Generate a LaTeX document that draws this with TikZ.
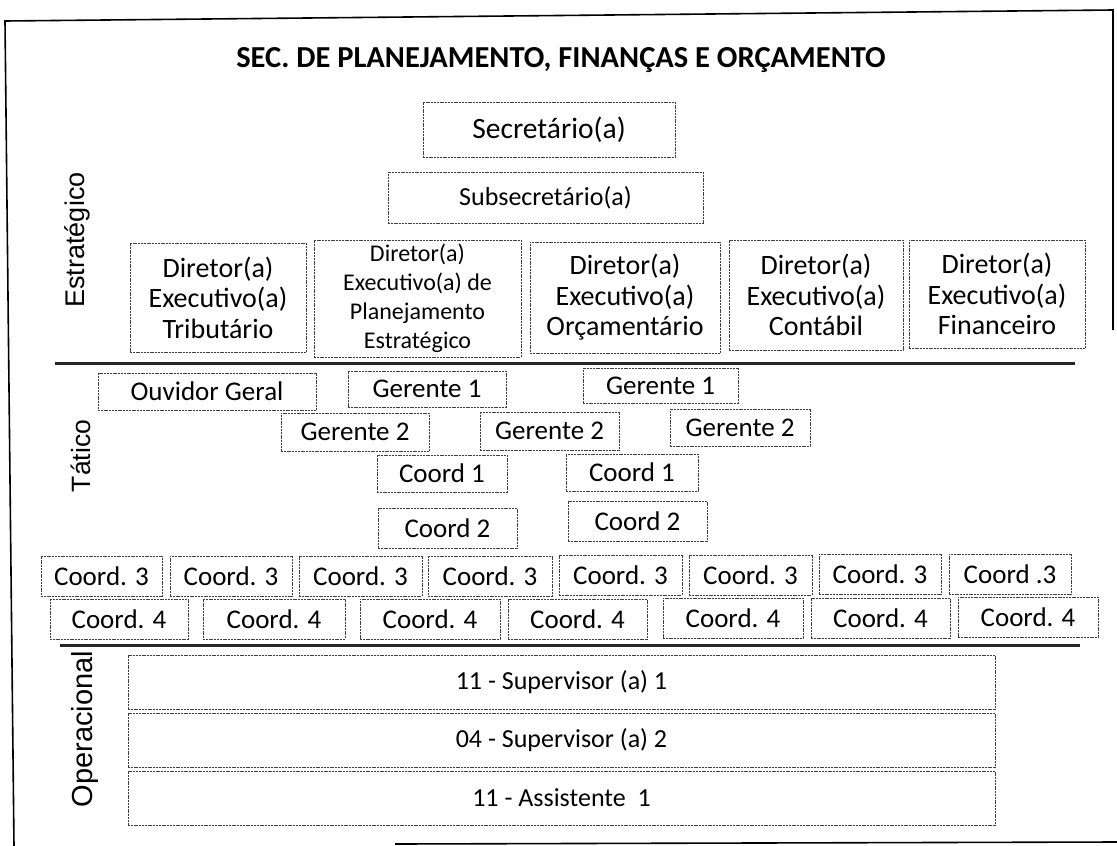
\documentclass[tikz,border=0pt]{standalone}
\usepackage{fontspec}
\setmainfont{Carlito}
\newfontfamily\lblfont{Liberation Sans}
\begin{document}
\begin{tikzpicture}[x=1pt,y=-1pt,
  box/.style={draw=black!75,line width=0.7pt,dash pattern=on 2pt off 0.8pt,inner sep=0pt,align=center,
    font=\fontsize{27}{32}\selectfont},
  dir/.style={box,font=\fontsize{28}{30.5}\selectfont},
  sep/.style={line width=3pt,black!85},
  frame/.style={line width=1.6pt,black},
  side/.style={rotate=90,font=\lblfont\fontsize{27}{30}\selectfont}]
\useasboundingbox (0,0) rectangle (1117,846);
% frame
\coordinate (fbl) at (14,846);
\coordinate (ftl) at (5,21);
\coordinate (ftr) at (1113,10);
\coordinate (frr) at (1113,330);
\coordinate (fb1) at (395,844);
\coordinate (fb2) at (1117,842);
\draw[frame] (fbl) -- (ftl) -- (ftr) -- (frr);
\draw[frame] (fb1) -- (fb2);
% title
\node[font=\bfseries\fontsize{30.5}{36}\selectfont] (title) at (561,60) {SEC. DE PLANEJAMENTO, FINANÇAS E ORÇAMENTO};
% side labels
\node[side] (lE) at (77,240) {Estratégico};
\node[side,font=\lblfont\fontsize{26.5}{30}\selectfont] (lT) at (81,456) {Tático};
\node[side,font=\lblfont\fontsize{29}{32}\selectfont] (lO) at (85,729) {Operacional};
% strategic
\node[box,minimum width=252,minimum height=55,font=\fontsize{29.5}{34}\selectfont] (sec) at (549,129.5) {Secretário(a)};
\node[box,minimum width=315,minimum height=51,font=\fontsize{26}{30}\selectfont] (sub) at (545.5,197.5) {Subsecretário(a)};
\node[dir,minimum width=176,minimum height=109] (d1) at (218,297.5) {Diretor(a)\\Executivo(a)\\Tributário};
\node[box,minimum width=207,minimum height=117,font=\fontsize{24}{29}\selectfont] (d2) at (417.5,298.5) {Diretor(a)\\Executivo(a) de\\Planejamento\\Estratégico};
\node[dir,minimum width=190,minimum height=111] (d3) at (625,297.5) {Diretor(a)\\Executivo(a)\\Orçamentário};
\node[dir,minimum width=174,minimum height=110] (d4) at (816,295) {Diretor(a)\\Executivo(a)\\Contábil};
\node[dir,minimum width=176,minimum height=108] (d5) at (997,294) {Diretor(a)\\Executivo(a)\\Financeiro};
\coordinate (s1a) at (55,363);
\coordinate (s1b) at (1075,363);
\draw[sep] (s1a) -- (s1b);
% tactical
\node[box,minimum width=218,minimum height=37] (ouv) at (207,391.5) {Ouvidor Geral};
\node[box,minimum width=158,minimum height=36] (g1a) at (427,389) {Gerente 1};
\node[box,minimum width=155,minimum height=35] (g1b) at (660.5,385.5) {Gerente 1};
\node[box,minimum width=148,minimum height=38] (g2a) at (355,432) {Gerente 2};
\node[box,minimum width=139,minimum height=38] (g2b) at (549.5,431) {Gerente 2};
\node[box,minimum width=140,minimum height=37] (g2c) at (740,427.5) {Gerente 2};
\node[box,minimum width=130,minimum height=37] (c1a) at (442,473.5) {Coord 1};
\node[box,minimum width=132,minimum height=37] (c1b) at (632,472.5) {Coord 1};
\node[box,minimum width=139,minimum height=40] (c2a) at (447.5,528) {Coord 2};
\node[box,minimum width=139,minimum height=40] (c2b) at (637.5,521) {Coord 2};
\node[box,minimum width=121,minimum height=40] (c3a) at (101.5,576) {Coord. 3};
\node[box,minimum width=122,minimum height=40] (c3b) at (231,576) {Coord. 3};
\node[box,minimum width=123,minimum height=40] (c3c) at (360.5,576) {Coord. 3};
\node[box,minimum width=124,minimum height=40] (c3d) at (490,576) {Coord. 3};
\node[box,minimum width=123,minimum height=40] (c3e) at (620.5,575) {Coord. 3};
\node[box,minimum width=123,minimum height=40] (c3f) at (750.5,575) {Coord. 3};
\node[box,minimum width=122,minimum height=40] (c3g) at (880,574) {Coord. 3};
\node[box,minimum width=122,minimum height=40] (c3h) at (1010,574) {Coord .3};
\node[box,minimum width=138,minimum height=40] (c4a) at (119,619) {Coord. 4};
\node[box,minimum width=142,minimum height=40] (c4b) at (274,619) {Coord. 4};
\node[box,minimum width=140,minimum height=40] (c4c) at (430,619) {Coord. 4};
\node[box,minimum width=139,minimum height=40] (c4d) at (577.5,619) {Coord. 4};
\node[box,minimum width=140,minimum height=40] (c4e) at (733,618) {Coord. 4};
\node[box,minimum width=139,minimum height=40] (c4f) at (880.5,618) {Coord. 4};
\node[box,minimum width=140,minimum height=40] (c4g) at (1028,617) {Coord. 4};
\coordinate (s2a) at (60,645);
\coordinate (s2b) at (1080,645);
\draw[sep] (s2a) -- (s2b);
% operational
\node[box,minimum width=867,minimum height=54,font=\fontsize{26}{30}\selectfont] (o1) at (561.5,682) {11 - Supervisor (a) 1};
\node[box,minimum width=867,minimum height=54,font=\fontsize{26}{30}\selectfont] (o2) at (561.5,740) {04 - Supervisor (a) 2};
\node[box,minimum width=867,minimum height=54,font=\fontsize{26}{30}\selectfont] (o3) at (561.5,798) {11 - Assistente\ \ 1};
\end{tikzpicture}
\end{document}
